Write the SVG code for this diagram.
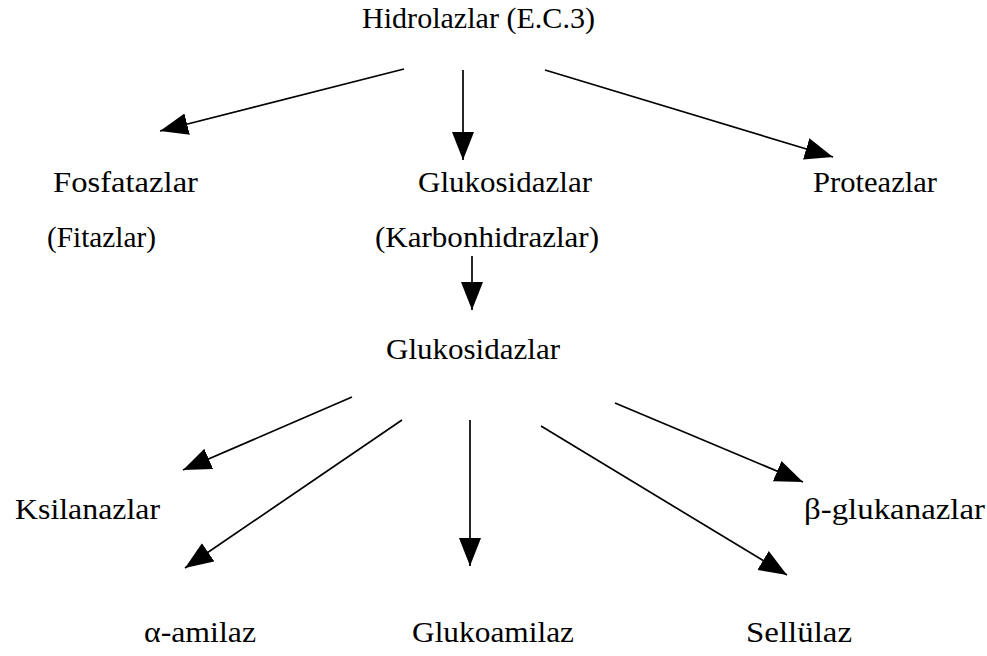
<svg xmlns="http://www.w3.org/2000/svg" width="987" height="656" viewBox="0 0 987 656">
<style>
.t{font-family:"Liberation Serif","Times New Roman",serif;font-size:29px;fill:#000}
</style>
<defs>
<marker id="ah" markerUnits="userSpaceOnUse" markerWidth="30" markerHeight="24" viewBox="0 0 30 24" refX="28" refY="12" orient="auto">
<path d="M0,1 L28,12 L0,23 z" fill="#000"/>
</marker>
</defs>
<rect width="987" height="656" fill="#fff"/>
<g id="hidrolazlar"><text class="t" x="362" y="28" textLength="233" lengthAdjust="spacingAndGlyphs">Hidrolazlar (E.C.3)</text></g>
<g id="fosfatazlar"><text class="t" x="53" y="192" textLength="145" lengthAdjust="spacingAndGlyphs">Fosfatazlar</text><text class="t" x="47" y="247" textLength="109" lengthAdjust="spacingAndGlyphs">(Fitazlar)</text></g>
<g id="glukosidazlar1"><text class="t" x="418" y="192" textLength="174" lengthAdjust="spacingAndGlyphs">Glukosidazlar</text><text class="t" x="375" y="247" textLength="224" lengthAdjust="spacingAndGlyphs">(Karbonhidrazlar)</text></g>
<g id="proteazlar"><text class="t" x="813" y="192" textLength="124" lengthAdjust="spacingAndGlyphs">Proteazlar</text></g>
<g id="glukosidazlar2"><text class="t" x="386" y="359" textLength="174" lengthAdjust="spacingAndGlyphs">Glukosidazlar</text></g>
<g id="ksilanazlar"><text class="t" x="15" y="519" textLength="145" lengthAdjust="spacingAndGlyphs">Ksilanazlar</text></g>
<g id="bglukanazlar"><text class="t" x="804" y="519" textLength="181" lengthAdjust="spacingAndGlyphs">β-glukanazlar</text></g>
<g id="aamilaz"><text class="t" x="144" y="642" textLength="112" lengthAdjust="spacingAndGlyphs">α-amilaz</text></g>
<g id="glukoamilaz"><text class="t" x="412" y="642" textLength="162" lengthAdjust="spacingAndGlyphs">Glukoamilaz</text></g>
<g id="sellulaz"><text class="t" x="746" y="642" textLength="106" lengthAdjust="spacingAndGlyphs">Sellülaz</text></g>
<g id="connectors" stroke="#000" stroke-width="1.7">
<line x1="404" y1="69" x2="160" y2="131" marker-end="url(#ah)"/>
<line x1="463" y1="70" x2="463" y2="160" marker-end="url(#ah)"/>
<line x1="545" y1="70" x2="833" y2="157" marker-end="url(#ah)"/>
<line x1="472" y1="256" x2="472" y2="310" marker-end="url(#ah)"/>
<line x1="352" y1="397" x2="183" y2="470" marker-end="url(#ah)"/>
<line x1="402" y1="420" x2="185" y2="568" marker-end="url(#ah)"/>
<line x1="470" y1="420" x2="470" y2="566" marker-end="url(#ah)"/>
<line x1="541" y1="426" x2="787" y2="575" marker-end="url(#ah)"/>
<line x1="615" y1="403" x2="803" y2="482" marker-end="url(#ah)"/>
</g>
</svg>
